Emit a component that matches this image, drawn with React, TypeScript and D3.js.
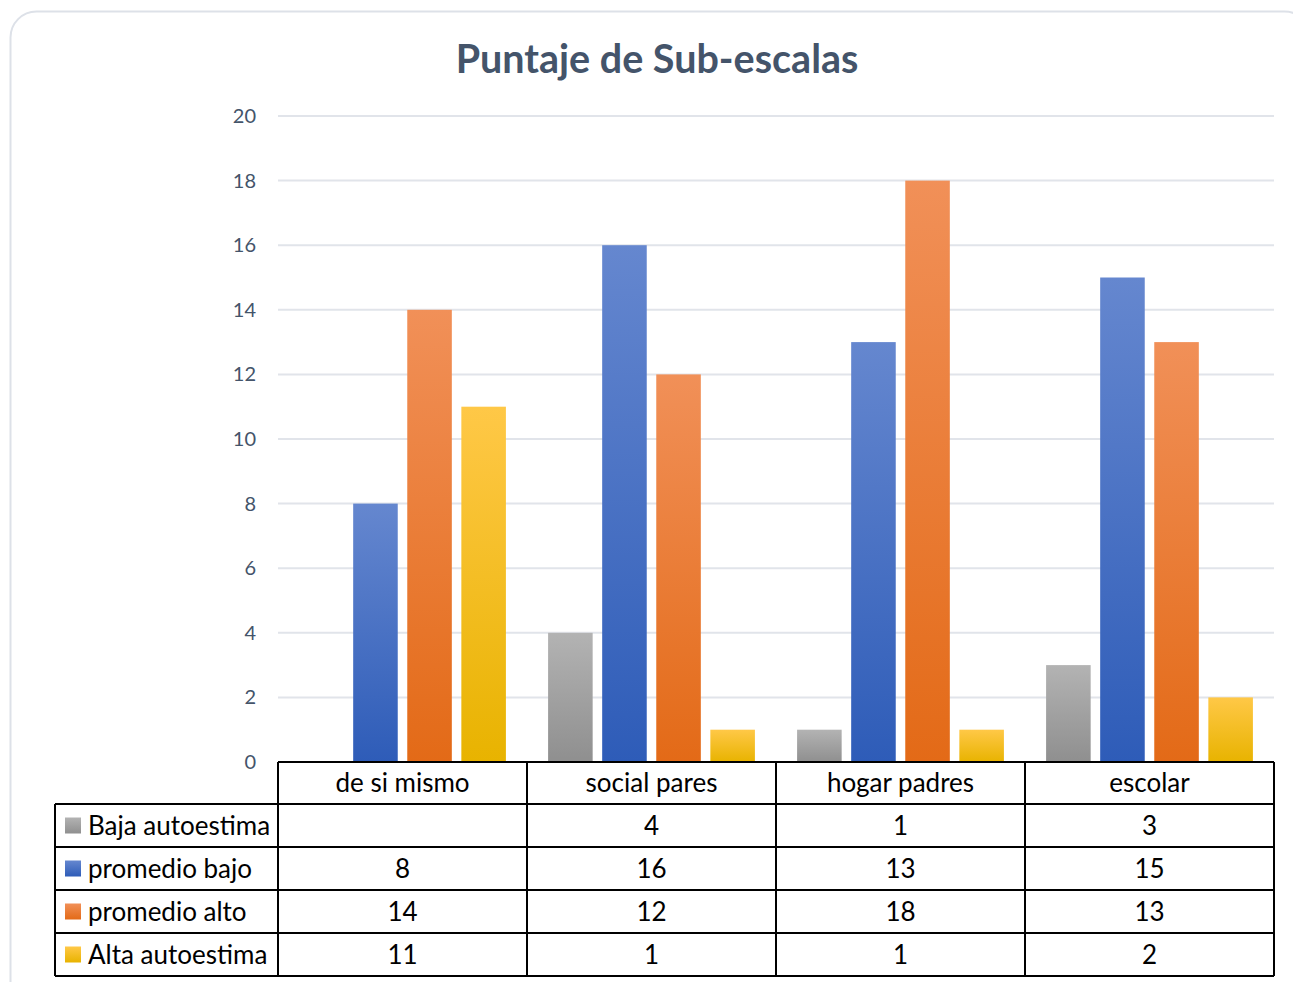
import React from "react";
import * as d3 from "d3";

const categories = ["de si mismo", "social pares", "hogar padres", "escolar"];
const seriesNames = ["Baja autoestima", "promedio bajo", "promedio alto", "Alta autoestima"];
const bajaAutoestima: (number | null)[] = [null, 4, 1, 3];
const promedioBajo: (number | null)[] = [8, 16, 13, 15];
const promedioAlto: (number | null)[] = [14, 12, 18, 13];
const altaAutoestima: (number | null)[] = [11, 1, 1, 2];
const yTicks = [0, 2, 4, 6, 8, 10, 12, 14, 16, 18, 20];

const seriesValues = [bajaAutoestima, promedioBajo, promedioAlto, altaAutoestima];
const gradients = [
  { id: "gGray", top: "#B3B3B3", bottom: "#8F8F8F" },
  { id: "gBlue", top: "#6587CF", bottom: "#2E5CB8" },
  { id: "gOrange", top: "#F19058", bottom: "#E36A17" },
  { id: "gYellow", top: "#FFC847", bottom: "#E8B300" },
];

const FONT = "Lato, 'Noto Sans', sans-serif";

export default function App() {
  const W = 1293;
  const H = 982;
  const left = 278;
  const right = 1274;
  const top = 116;
  const bottom = 762;
  const x = d3.scaleBand<string>().domain(categories).range([left, right]).paddingInner(0).paddingOuter(0);
  const xi = d3
    .scaleBand<number>()
    .domain([0, 1, 2, 3])
    .range([0, x.bandwidth()])
    .paddingInner(0.176)
    .paddingOuter(0.39);
  const y = d3.scaleLinear().domain([0, 20]).range([bottom, top]);

  const rowH = 43;
  const tableLeft = 55;
  const headerTop = bottom;
  const headerBottom = bottom + 42;
  const rowTops = seriesNames.map((_, i) => headerBottom + i * rowH);
  const tableBottom = headerBottom + seriesNames.length * rowH;
  const fs = 26;

  return (
    <svg
      width={W}
      height={H}
      style={{ position: "absolute", left: 0, top: 0, display: "block", background: "#fff" }}
      fontFamily={FONT}
    >
      <defs>
        {gradients.map((g) => (
          <linearGradient key={g.id} id={g.id} x1="0" y1="0" x2="0" y2="1">
            <stop offset="0" stopColor={g.top} />
            <stop offset="1" stopColor={g.bottom} />
          </linearGradient>
        ))}
      </defs>
      <rect x={10.5} y={11.5} width={1300} height={1000} rx={26} fill="#fff" stroke="#DDE1E8" strokeWidth={2} />

      <text x={657} y={73} textAnchor="middle" fontSize={39.5} fontWeight="bold" fill="#44546A">
        Puntaje de Sub-escalas
      </text>

      {yTicks.map((t) => (
        <g key={t}>
          {t > 0 && <line x1={left} x2={right} y1={y(t)} y2={y(t)} stroke="#E1E4EA" strokeWidth={2} />}
          <text x={256} y={y(t)} dy="0.35em" textAnchor="end" fontSize={20} fill="#44546A">
            {t}
          </text>
        </g>
      ))}

      {categories.map((c, ci) => (
        <g key={c}>
          {seriesValues.map((vals, si) => {
            const v = vals[ci];
            if (v == null) return null;
            const bx = (x(c) as number) + (xi(si) as number);
            return (
              <rect
                key={si}
                x={bx}
                y={y(v)}
                width={xi.bandwidth()}
                height={y(0) - y(v)}
                fill={`url(#${gradients[si].id})`}
              />
            );
          })}
        </g>
      ))}

      {/* data table */}
      <g stroke="#000" strokeWidth={2}>
        <line x1={left} x2={right} y1={headerTop} y2={headerTop} />
        {rowTops.map((rt) => (
          <line key={rt} x1={tableLeft} x2={right} y1={rt} y2={rt} />
        ))}
        <line x1={tableLeft} x2={right} y1={tableBottom} y2={tableBottom} />
        <line x1={tableLeft} x2={tableLeft} y1={headerBottom} y2={tableBottom} />
        {categories.map((c) => (
          <line key={c} x1={x(c) as number} x2={x(c) as number} y1={headerTop} y2={tableBottom} />
        ))}
        <line x1={right} x2={right} y1={headerTop} y2={tableBottom} />
      </g>

      {categories.map((c) => (
        <text
          key={c}
          x={(x(c) as number) + x.bandwidth() / 2}
          y={(headerTop + headerBottom) / 2}
          dy="0.35em"
          textAnchor="middle"
          fontSize={fs}
          fill="#000"
        >
          {c}
        </text>
      ))}

      {seriesNames.map((s, si) => {
        const cy = rowTops[si] + rowH / 2;
        return (
          <g key={s}>
            <rect x={65} y={cy - 8} width={16} height={16} fill={`url(#${gradients[si].id})`} />
            <text x={88} y={cy} dy="0.35em" fontSize={fs} fill="#000">
              {s}
            </text>
            {categories.map((c, ci) => {
              const v = seriesValues[si][ci];
              if (v == null) return null;
              return (
                <text
                  key={c}
                  x={(x(c) as number) + x.bandwidth() / 2}
                  y={cy}
                  dy="0.35em"
                  textAnchor="middle"
                  fontSize={fs}
                  fill="#000"
                >
                  {v}
                </text>
              );
            })}
          </g>
        );
      })}
    </svg>
  );
}
